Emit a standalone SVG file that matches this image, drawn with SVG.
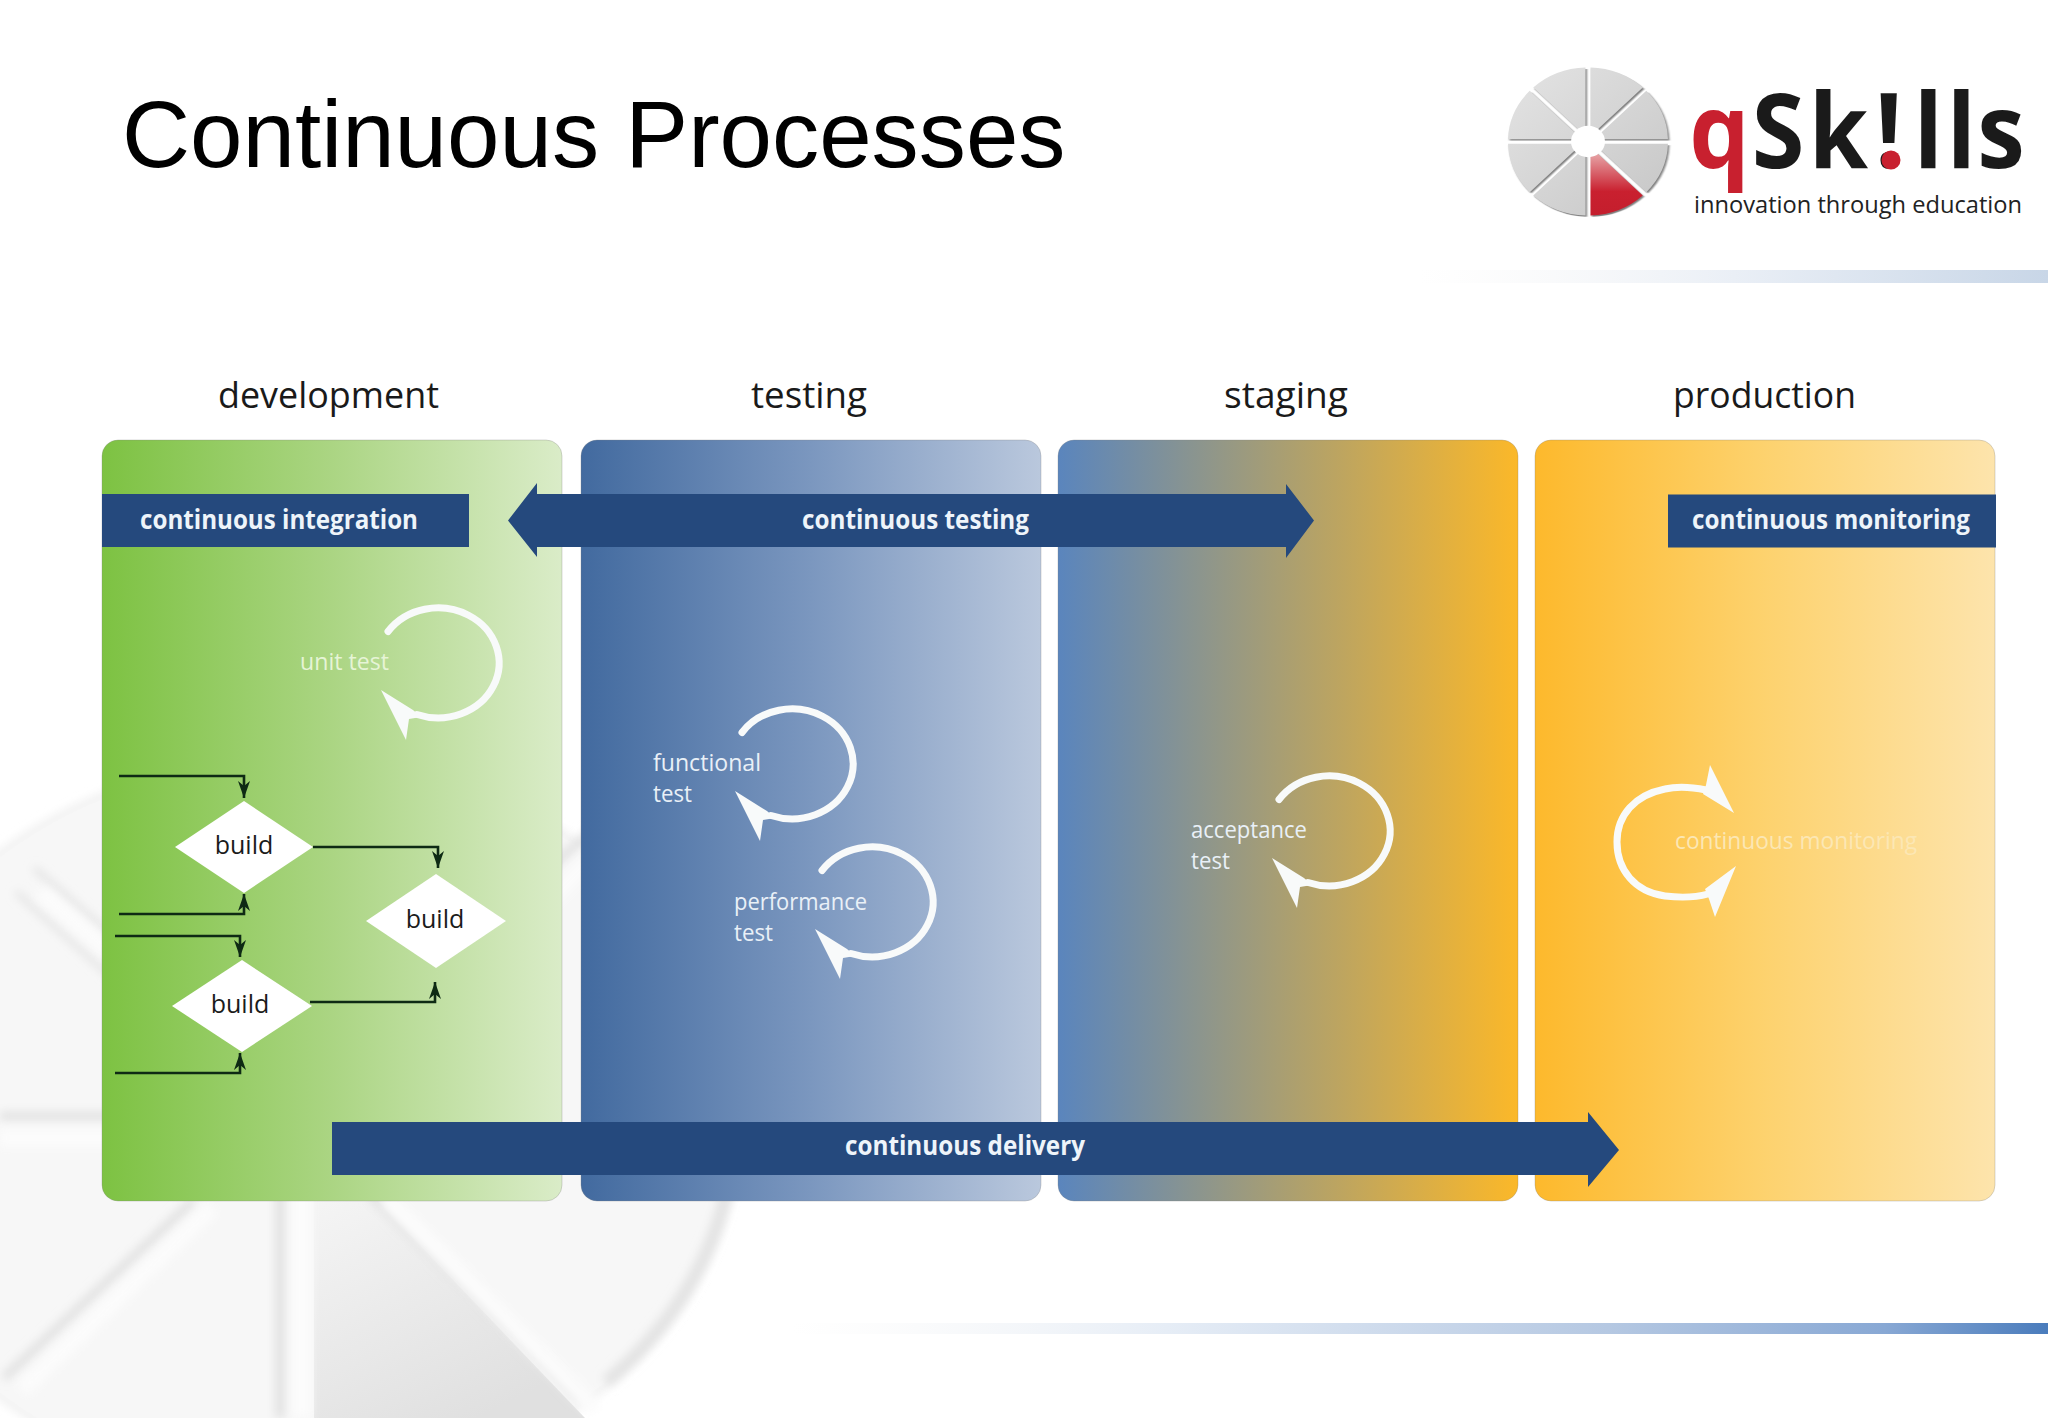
<svg xmlns="http://www.w3.org/2000/svg" xmlns:xlink="http://www.w3.org/1999/xlink" width="2048" height="1418" viewBox="0 0 2048 1418">
<style>
text{font-family:"Open Sans","Noto Sans","DejaVu Sans",sans-serif}
.head{font-size:37px;fill:#1a1a1a}
.bar{fill:#25497d}
.barT{font-size:26.5px;font-weight:700;fill:#eef4fa}
.lbl{font-size:24px;fill:#e9f0f7}
.bld{font-size:25px;fill:#1b1b1b;text-anchor:middle}
.dia{fill:#fff}
.panel{stroke:#808080;stroke-opacity:.3;stroke-width:1}
.loop{fill:none;stroke:#f8fafa;stroke-width:7;stroke-linecap:round}
.tip{fill:#f8fafa}
.con{fill:none;stroke:#0e2a14;stroke-width:2.6;marker-end:url(#ah)}
.wshadow{fill:none;stroke:#e0e0e0;filter:url(#b3)}
.wgap{fill:none;stroke:#fcfcfc;filter:url(#b2)}
</style>
<defs>
<filter id="b2" filterUnits="userSpaceOnUse" x="-100" y="600" width="1000" height="900"><feGaussianBlur stdDeviation="5"/></filter>
<filter id="b3" filterUnits="userSpaceOnUse" x="-100" y="600" width="1000" height="900"><feGaussianBlur stdDeviation="5"/></filter>
<filter id="b1" x="-10%" y="-10%" width="120%" height="120%"><feGaussianBlur stdDeviation="0.8"/></filter>
<linearGradient id="gG"><stop offset="0" stop-color="#7dc242"/><stop offset=".5" stop-color="#abd583"/><stop offset="1" stop-color="#daecc8"/></linearGradient>
<linearGradient id="gB"><stop offset="0" stop-color="#426a9f"/><stop offset=".5" stop-color="#7b97bf"/><stop offset="1" stop-color="#bac8dd"/></linearGradient>
<linearGradient id="gS"><stop offset="0" stop-color="#5a85bd"/><stop offset=".5" stop-color="#ab9f70"/><stop offset="1" stop-color="#fbb829"/></linearGradient>
<linearGradient id="gO"><stop offset="0" stop-color="#fdb92c"/><stop offset=".5" stop-color="#fdd26e"/><stop offset="1" stop-color="#fde4ac"/></linearGradient>
<linearGradient id="gTop"><stop offset="0" stop-color="#f6f6f6" stop-opacity="0"/><stop offset=".5" stop-color="#eaeff6"/><stop offset="1" stop-color="#c8d6e7"/></linearGradient>
<linearGradient id="gBot"><stop offset="0" stop-color="#f6f6f6" stop-opacity="0"/><stop offset=".3" stop-color="#e6edf6"/><stop offset=".65" stop-color="#b5c8e2"/><stop offset=".87" stop-color="#88a8d4"/><stop offset="1" stop-color="#4a7cbc"/></linearGradient>
<linearGradient id="gSec" x1="0" y1="0" x2=".6" y2="1"><stop offset="0" stop-color="#f5f5f5"/><stop offset="1" stop-color="#e0e0e0"/></linearGradient>
<linearGradient id="gLogo" x1="0" y1="0" x2="1" y2="1"><stop offset="0" stop-color="#e4e4e4"/><stop offset="1" stop-color="#c6c6c6"/></linearGradient>
<linearGradient id="gRed" x1="0" y1="0" x2="0" y2="1"><stop offset="0" stop-color="#ecbcbc"/><stop offset=".65" stop-color="#c9202f"/><stop offset="1" stop-color="#c41e2d"/></linearGradient>
<marker id="ah" markerUnits="userSpaceOnUse" markerWidth="20" markerHeight="14" refX="17" refY="6" orient="auto"><path d="M17 6L0 0L5 6L0 12Z" fill="#0e2a14"/></marker>
<g id="loopA">
<path class="loop" d="M-51-31A61 55 0 1 1-22 52"/>
<path class="tip" d="M-58 27.500L-26 47.500L-18 54.500L-30 56.500L-33 77.500Z"/>
</g>
<path id="logoW" d="M2.5-6.03L2.5-79.96A80 80 0 0 1 54.78-58.31ZM6.03-2.5L58.31-54.78A80 80 0 0 1 79.96-2.5ZM6.03 2.5L79.96 2.5A80 80 0 0 1 58.31 54.78ZM-2.5 6.03L-2.5 79.96A80 80 0 0 1-54.78 58.31ZM-6.03 2.5L-58.31 54.78A80 80 0 0 1-79.96 2.5ZM-6.03-2.5L-79.96-2.5A80 80 0 0 1-58.31-54.78ZM-2.5-6.03L-54.78-58.31A80 80 0 0 1-2.5-79.96Z"/>
</defs>
<rect width="2048" height="1418" fill="#fff"/>
<g id="watermark">
<ellipse cx="296" cy="1125" rx="440" ry="365" fill="none" stroke="#efefef" stroke-width="8" filter="url(#b3)"/>
<ellipse cx="296" cy="1125" rx="438" ry="363" fill="#f7f7f7"/>
<path d="M727 1188A438 363 0 0 1 606 1382" fill="none" stroke="#e2e2e2" stroke-width="12" filter="url(#b3)"/>
<path d="M314 1195L372 1195L585 1418L314 1418Z" fill="url(#gSec)"/>
<path class="wshadow" stroke-width="9" d="M280 1190V1418"/>
<path class="wshadow" stroke-width="8" d="M0 1116H300"/>
<path class="wshadow" stroke-width="8" d="M194 1200L4 1378"/>
<path class="wshadow" stroke-width="8" d="M370 1195L580 1400"/>
<path class="wshadow" stroke-width="5" d="M16 892L110 976"/>
<path class="wshadow" stroke-width="5" d="M34 868L110 934"/>
<path class="wshadow" stroke-width="8" d="M500 910L640 790"/>
<path class="wgap" stroke-width="18" d="M302 1150V1418"/>
<path class="wgap" stroke-width="18" d="M0 1138H300"/>
<path class="wgap" stroke-width="16" d="M212 1208L22 1390"/>
<path class="wgap" stroke-width="16" d="M386 1198L596 1410"/>
<path class="wgap" stroke-width="16" d="M40 892L110 952"/>
<path class="wgap" stroke-width="16" d="M520 930L650 800"/>
</g>
<rect id="bar-top" x="1420" y="270" width="628" height="13" fill="url(#gTop)"/>
<rect id="bar-bottom" x="790" y="1323" width="1258" height="11" fill="url(#gBot)"/>
<text id="title" x="122" y="167" style="font-family:'Liberation Sans',Arial,sans-serif;font-size:94.3px;fill:#000">Continuous Processes</text>
<g id="logo">
<g transform="translate(1588 141.500) scale(1 .925)">
<use href="#logoW" transform="translate(1.5 1.5)" fill="#808080" filter="url(#b1)"/>
<path d="M2.5 6.03L54.78 58.31A80 80 0 0 1 2.5 79.96Z" transform="translate(1.5 1.5)" fill="#808080" filter="url(#b1)"/>
<use href="#logoW" fill="url(#gLogo)"/>
<path d="M2.5 6.03L54.78 58.31A80 80 0 0 1 2.5 79.96Z" fill="url(#gRed)"/>
<circle r="17" fill="#fff"/>
</g>
<text transform="translate(1692 168) scale(.92 1)" x="-3 65 127 199 241 277 310" y="0" style="font-size:104px;font-weight:700;fill:#1a1a1a"><tspan fill="#c8202f">q</tspan>Sk!lls</text>
<circle cx="1891" cy="160" r="9.500" fill="#c8202f"/>
<text x="1694" y="213" textLength="328" lengthAdjust="spacingAndGlyphs" style="font-size:24px;fill:#222">innovation through education</text>
</g>
<g id="panel-development"><rect class="panel" x="102" y="440" width="460" height="761" rx="16" fill="url(#gG)"/><text class="head" x="218" y="408" textLength="221" lengthAdjust="spacingAndGlyphs">development</text></g>
<g id="panel-testing"><rect class="panel" x="581" y="440" width="460" height="761" rx="16" fill="url(#gB)"/><text class="head" x="751" y="408" textLength="116" lengthAdjust="spacingAndGlyphs">testing</text></g>
<g id="panel-staging"><rect class="panel" x="1058" y="440" width="460" height="761" rx="16" fill="url(#gS)"/><text class="head" x="1224" y="408" textLength="124" lengthAdjust="spacingAndGlyphs">staging</text></g>
<g id="panel-production"><rect class="panel" x="1535" y="440" width="460" height="761" rx="16" fill="url(#gO)"/><text class="head" x="1673" y="408" textLength="183" lengthAdjust="spacingAndGlyphs">production</text></g>
<g id="continuous-integration"><rect class="bar" x="102" y="494" width="367" height="53"/><text class="barT" x="140" y="529" textLength="278" lengthAdjust="spacingAndGlyphs">continuous integration</text></g>
<g id="continuous-testing"><path class="bar" d="M508 520.500L537 483V494H1286V484L1314 520.500L1286 558V547H537V557Z"/><text class="barT" x="802" y="529" textLength="227" lengthAdjust="spacingAndGlyphs">continuous testing</text></g>
<g id="continuous-monitoring"><rect class="bar" x="1668" y="494.500" width="328" height="53"/><text class="barT" x="1692" y="529" textLength="278" lengthAdjust="spacingAndGlyphs">continuous monitoring</text></g>
<g id="continuous-delivery"><path class="bar" d="M332 1122H1588V1112L1619 1150L1588 1187V1175H332Z"/><text class="barT" x="845" y="1155" textLength="240" lengthAdjust="spacingAndGlyphs">continuous delivery</text></g>
<g id="unit-test"><use href="#loopA" x="439" y="662.500"/><text class="lbl" x="300" y="670" textLength="89" lengthAdjust="spacingAndGlyphs" style="fill:#e6f4d6">unit test</text></g>
<g id="functional-test"><use href="#loopA" x="793" y="763.500"/><text class="lbl" x="653" y="771" textLength="108" lengthAdjust="spacingAndGlyphs">functional</text><text class="lbl" x="653" y="802" textLength="39" lengthAdjust="spacingAndGlyphs">test</text></g>
<g id="performance-test"><use href="#loopA" x="873" y="901.500"/><text class="lbl" x="734" y="910" textLength="133" lengthAdjust="spacingAndGlyphs">performance</text><text class="lbl" x="734" y="941" textLength="39" lengthAdjust="spacingAndGlyphs">test</text></g>
<g id="acceptance-test"><use href="#loopA" x="1330" y="830.500"/><text class="lbl" x="1191" y="838" textLength="116" lengthAdjust="spacingAndGlyphs">acceptance</text><text class="lbl" x="1191" y="869" textLength="39" lengthAdjust="spacingAndGlyphs">test</text></g>
<g id="monitoring-loop">
<path class="loop" d="M1706 790Q1682 785 1665 789C1635 795 1617 815 1617 842C1617 870 1635 892 1665 896Q1690 899 1708 894"/>
<path class="tip" d="M1710 765L1734 813L1703 794L1706 785Z"/>
<path class="tip" d="M1736 866L1705 889L1709 899L1715 917Z"/>
<text class="lbl" x="1675" y="849" textLength="242" lengthAdjust="spacingAndGlyphs" style="fill:#fce7b4">continuous monitoring</text>
</g>
<g id="build-1"><path class="dia" d="M175 847L244 801L313 847L244 893Z"/><text class="bld" x="244" y="854">build</text></g>
<g id="build-2"><path class="dia" d="M366 921L436 874L506 921L436 968Z"/><text class="bld" x="435" y="928">build</text></g>
<g id="build-3"><path class="dia" d="M172 1006L242 960L312 1006L242 1052Z"/><text class="bld" x="240" y="1013">build</text></g>
<g id="connectors">
<path class="con" d="M119 776H244V798"/>
<path class="con" d="M119 914H244V894"/>
<path class="con" d="M115 936H240V957"/>
<path class="con" d="M115 1073H240V1053"/>
<path class="con" d="M313 847H438V868"/>
<path class="con" d="M310 1002H435V982"/>
</g>
</svg>
